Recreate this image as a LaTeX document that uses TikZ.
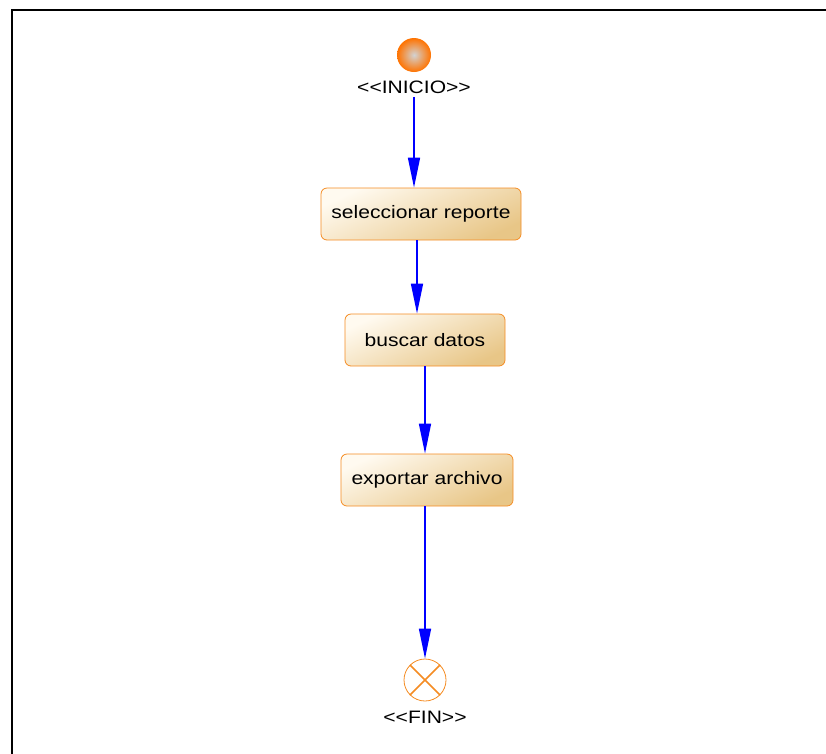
\documentclass[tikz,border=0pt]{standalone}
\usepackage{fontspec}
\usepackage{xcolor}
\usetikzlibrary{arrows.meta}
\newfontfamily\umlfont{Liberation Sans}[FakeStretch=1.17]
\definecolor{actborder}{RGB}{245,140,35}
\definecolor{actlight}{RGB}{255,250,240}
\definecolor{acttan}{RGB}{232,198,135}
\definecolor{flowblue}{RGB}{0,0,255}

\begin{document}
\begin{tikzpicture}[x=1pt,y=-1pt,font=\umlfont\fontsize{18}{20}\selectfont,
  activity/.style={draw=actborder, line width=0.8pt, rounded corners=6pt,
    top color=actlight, bottom color=acttan, shading angle=25,
    minimum height=52pt, inner sep=0pt},
  flow/.style={draw=flowblue, line width=1.6pt, -{Triangle[length=30pt,width=12pt]}}]
  \useasboundingbox (0,0) rectangle (826,753);
  \begin{scope}
    \clip (0,0) rectangle (826,753);
    \draw[line width=2pt] (12,10) rectangle (880,800);
  \end{scope}
  % start and end states
  \node (inicio) [circle, minimum size=34pt, inner sep=0pt,
    inner color=gray!35, outer color=orange!90!red] at (414,55) {};
  \node (inicio label) at (414,87) {<<INICIO>>};
  \node (fin) [circle, draw=actborder, line width=0.8pt, fill=white,
    minimum size=42pt, inner sep=0pt] at (425,680) {};
  \draw[actborder, line width=1.5pt] (fin.north west) -- (fin.south east)
    (fin.north east) -- (fin.south west);
  \node (fin label) at (425,717) {<<FIN>>};
  % activities
  \node (seleccionar) [activity, minimum width=200pt] at (421,214) {seleccionar reporte};
  \node (buscar) [activity, minimum width=160pt] at (425,340) {buscar datos};
  \node (exportar) [activity, minimum width=172pt] at (427,480) {exportar archivo};
  % transitions
  \draw[flow] (inicio label.south) -- (inicio label.south |- seleccionar.north);
  \draw[flow] ([xshift=-4pt]seleccionar.south) -- ([xshift=-4pt]seleccionar.south |- buscar.north);
  \draw[flow] (buscar.south) -- (buscar.south |- exportar.north);
  \draw[flow] ([xshift=-2pt]exportar.south) -- (fin.north);
\end{tikzpicture}
\end{document}
